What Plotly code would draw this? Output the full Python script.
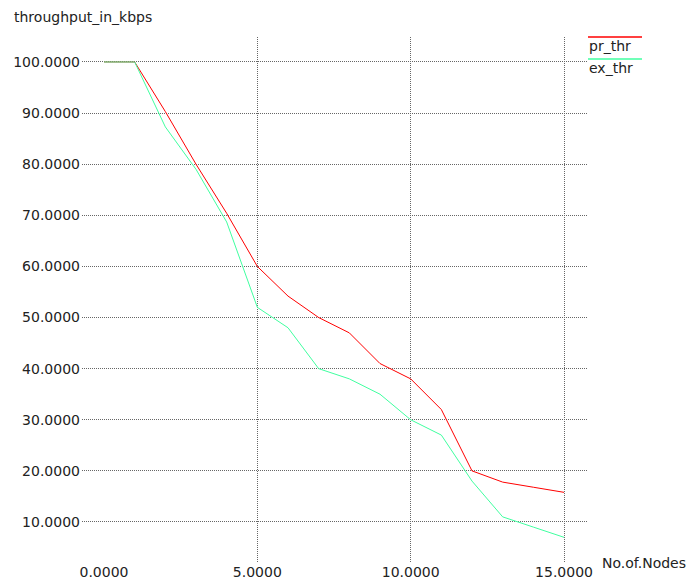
import plotly.graph_objects as go

nodes = list(range(0, 16))
pr_thr = [100, 100, 90.3, 80, 70.4, 60, 54.2, 50, 47, 41, 38, 32, 20, 17.8, 16.8, 15.8]
ex_thr = [100, 100, 87.3, 79, 68.7, 52, 48, 40, 38, 35, 30, 27, 18, 11, 9, 7]
x_grid_vals = [5, 10, 15]
x_tick_vals = [0, 5, 10, 15]
y_tick_vals = [10, 20, 30, 40, 50, 60, 70, 80, 90, 100]

FONT = "DejaVu Sans, sans-serif"
FS = 14
TXT = "#222222"
RED = "#ff0000"
GREEN = "#40ffa0"
GRID = "#666666"

# page has an 8px body margin; figure coordinates = page coordinates - 8
OFF = 8
W, H = 699 - OFF, 582 - OFF
L, R, T, B = 82 - OFF, 588 - OFF, 37 - OFF, 562 - OFF

fig = go.Figure()
fig.add_trace(go.Scatter(x=nodes, y=pr_thr, mode="lines", name="pr_thr",
                         line=dict(color=RED, width=1), showlegend=False))
fig.add_trace(go.Scatter(x=nodes, y=ex_thr, mode="lines", name="ex_thr",
                         line=dict(color=GREEN, width=1), showlegend=False))
# invisible trace to activate the label-only overlay x axis
fig.add_trace(go.Scatter(x=[nodes[0]], y=[pr_thr[0]], xaxis="x2", mode="markers",
                         marker=dict(opacity=0), showlegend=False, hoverinfo="skip"))

xr = [-0.7174, 15.782]
fig.update_layout(
    width=W, height=H,
    paper_bgcolor="white", plot_bgcolor="white",
    margin=dict(l=L, r=W - R, t=T, b=H - B),
    font=dict(family=FONT, size=FS, color=TXT),
    xaxis=dict(range=xr, tickvals=x_grid_vals, showticklabels=False, automargin=False,
               showgrid=True, gridcolor=GRID, griddash="1px,1px", gridwidth=1,
               zeroline=False, showline=False, ticks=""),
    xaxis2=dict(range=xr, overlaying="x", side="bottom", tickvals=x_tick_vals,
                ticktext=[f"{v:.4f}" for v in x_tick_vals], showgrid=False, automargin=False,
                zeroline=False, showline=False, ticks="",
                tickfont=dict(family=FONT, size=FS, color=TXT)),
    yaxis=dict(range=[2.17, 104.89], tickvals=y_tick_vals, automargin=False,
               ticktext=[f"{v:.4f}" for v in y_tick_vals],
               showgrid=True, gridcolor=GRID, griddash="1px,1px", gridwidth=1,
               zeroline=False, showline=False, ticks="", ticklabelstandoff=1,
               tickfont=dict(family=FONT, size=FS, color=TXT)),
    title=dict(text="throughput_in_kbps", x=(14 - OFF)/W, xanchor="left", xref="container",
               y=1-(17 - OFF)/H, yanchor="middle", yref="container",
               font=dict(family=FONT, size=FS, color=TXT)),
    showlegend=False,
)

def px2paper(px, py):
    px -= OFF
    py -= OFF
    return (px - L)/(R - L), (B - py)/(B - T)

# axis title for x
ax, ay = px2paper(600, 563)
fig.add_annotation(text="No.of.Nodes", xref="paper", yref="paper",
                   x=ax, y=ay, xanchor="left", yanchor="middle",
                   showarrow=False, font=dict(family=FONT, size=FS, color=TXT))

# legend (xgraph style: line above label)
for name, color, ly, ty in [("pr_thr", RED, 37, 46.5), ("ex_thr", GREEN, 59, 68)]:
    x0, y0 = px2paper(588, ly)
    x1, _ = px2paper(642, ly)
    fig.add_shape(type="line", xref="paper", yref="paper", x0=x0, x1=x1, y0=y0, y1=y0,
                  line=dict(color=color, width=1.5))
    tx, tyy = px2paper(587, ty)
    fig.add_annotation(text=name, xref="paper", yref="paper", x=tx, y=tyy,
                       xanchor="left", yanchor="middle", showarrow=False,
                       font=dict(family=FONT, size=FS, color=TXT))

fig.write_html("out.html")
